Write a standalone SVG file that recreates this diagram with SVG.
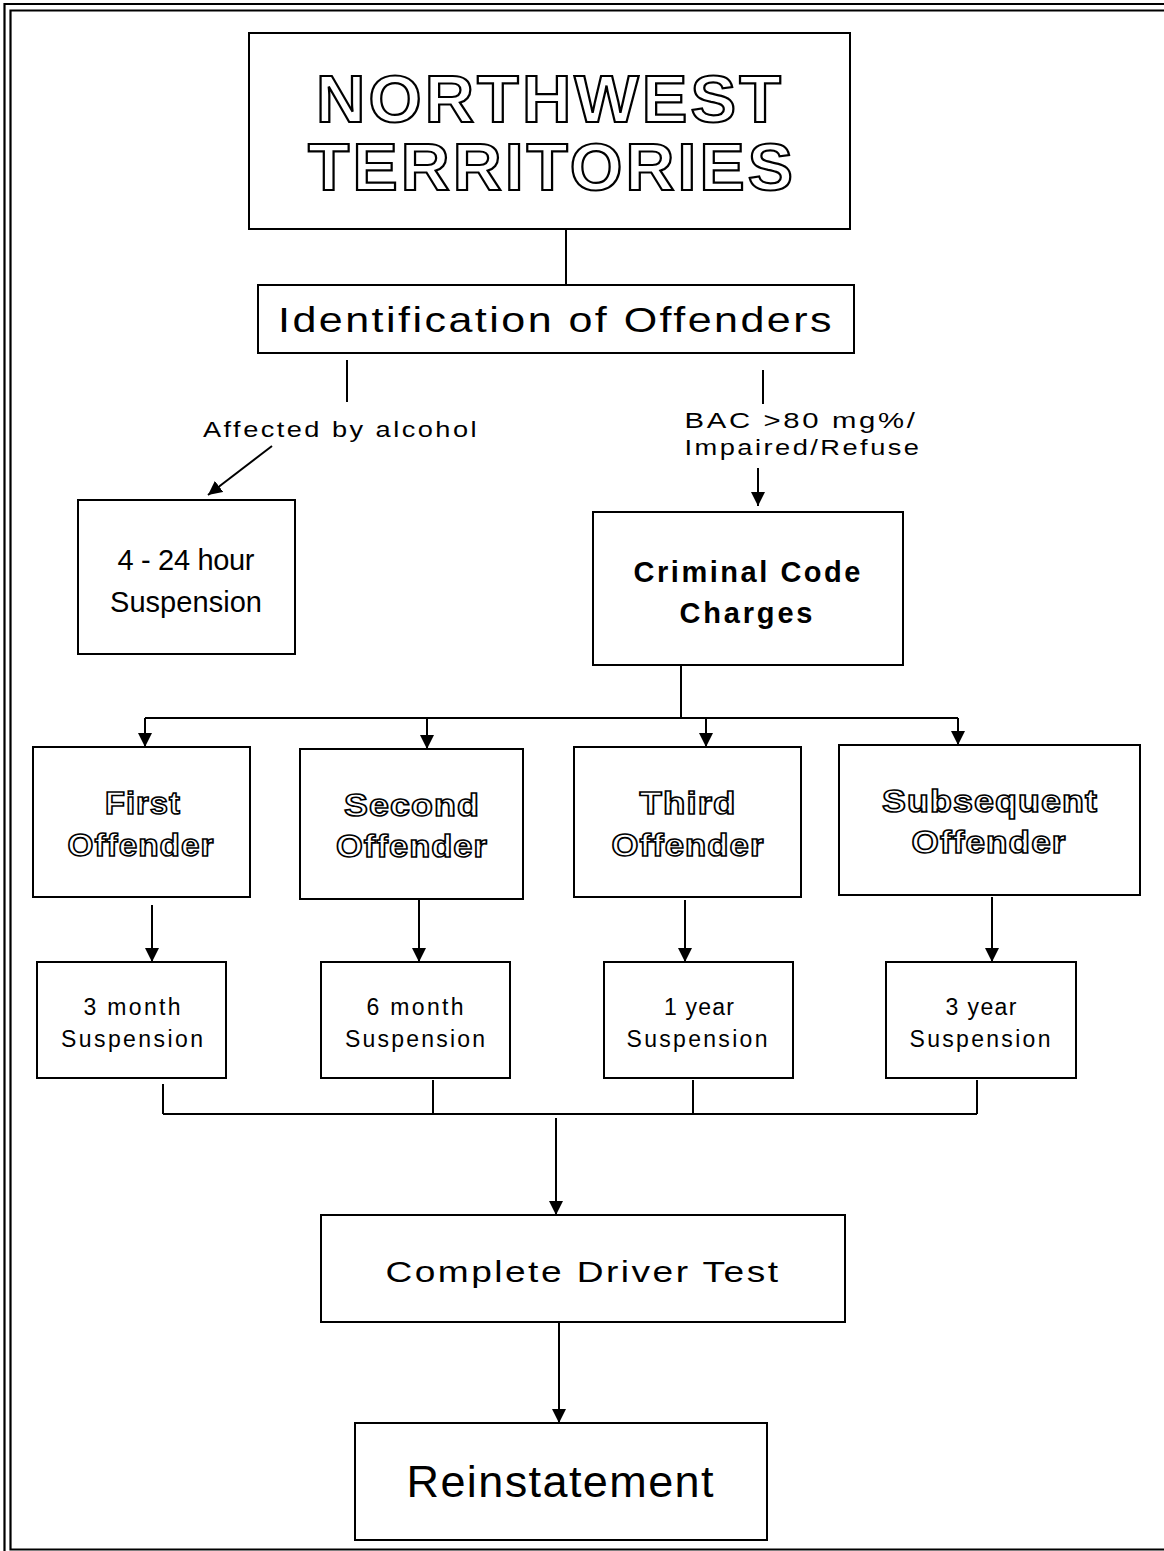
<svg xmlns="http://www.w3.org/2000/svg" width="1164" height="1551" viewBox="0 0 1164 1551">
<style>
.box{fill:#fff;stroke:#000;stroke-width:2}
.ln{fill:none;stroke:#000;stroke-width:2}
.t{font-family:"Liberation Sans",Arial,sans-serif;fill:#000;text-anchor:middle}
.w{letter-spacing:2px}
.title{font-family:"Liberation Sans",Arial,sans-serif;font-weight:bold;font-size:66px;letter-spacing:3px;fill:#fff;stroke:#000;stroke-width:2.2;text-anchor:middle}
.off{font-family:"Liberation Sans",Arial,sans-serif;font-weight:bold;font-size:32px;letter-spacing:1px;fill:#fff;stroke:#000;stroke-width:1.6;text-anchor:middle}
.s22{font-size:22px}
.s23{font-size:23px}
.s29{font-size:29px}
.b{font-weight:bold}
</style>
<defs>
<marker id="ah" markerUnits="userSpaceOnUse" markerWidth="14" markerHeight="14" viewBox="0 0 10 10" refX="10" refY="5" orient="auto">
<path d="M0,0 L10,5 L0,10 z" fill="#000"/>
</marker>
</defs>
<rect width="1164" height="1551" fill="#fff"/>
<g id="frame" fill="none" stroke="#000" stroke-width="2.2">
<path d="M1164,4 H4.5 V1551"/>
<path d="M1164,10.5 H10.5 V1549.5 H1164"/>
</g>
<g id="connectors" class="ln">
<path d="M566,229 V285"/>
<path d="M347,360 V402"/>
<path d="M763,370 V404"/>
<path d="M272,446 L208,495" marker-end="url(#ah)"/>
<path d="M758,468 V506" marker-end="url(#ah)"/>
<path d="M681,665 V718"/>
<path d="M145,718 H958"/>
<path d="M145,718 V747" marker-end="url(#ah)"/>
<path d="M427,718 V749" marker-end="url(#ah)"/>
<path d="M706,718 V747" marker-end="url(#ah)"/>
<path d="M958,718 V745" marker-end="url(#ah)"/>
<path d="M152,905 V962" marker-end="url(#ah)"/>
<path d="M419,900 V962" marker-end="url(#ah)"/>
<path d="M685,900 V962" marker-end="url(#ah)"/>
<path d="M992,897 V962" marker-end="url(#ah)"/>
<path d="M163,1084 V1114 M433,1080 V1114 M693,1080 V1114 M977,1080 V1114"/>
<path d="M163,1114 H977"/>
<path d="M556,1118 V1215" marker-end="url(#ah)"/>
<path d="M559,1322 V1423" marker-end="url(#ah)"/>
</g>
<g id="title">
<rect class="box" x="249" y="33" width="601" height="196"/>
<text class="title" x="550" y="122" textLength="468" lengthAdjust="spacingAndGlyphs">NORTHWEST</text>
<text class="title" x="552" y="190" textLength="488" lengthAdjust="spacingAndGlyphs">TERRITORIES</text>
</g>
<g id="identification">
<rect class="box" x="258" y="285" width="596" height="68"/>
<text class="t w" x="556" y="332" font-size="35" textLength="556" lengthAdjust="spacingAndGlyphs">Identification of Offenders</text>
</g>
<g id="label-alcohol">
<text class="t s22 w" x="341" y="437" textLength="276" lengthAdjust="spacingAndGlyphs">Affected by alcohol</text>
</g>
<g id="label-bac">
<text class="t s22 w" x="801" y="428" textLength="233" lengthAdjust="spacingAndGlyphs">BAC &gt;80 mg%/</text>
<text class="t s22 w" x="803" y="455" textLength="237" lengthAdjust="spacingAndGlyphs">Impaired/Refuse</text>
</g>
<g id="hour-suspension">
<rect class="box" x="78" y="500" width="217" height="154"/>
<text class="t s29" x="186" y="570" textLength="137">4 - 24 hour</text>
<text class="t s29" x="186" y="612" textLength="152">Suspension</text>
</g>
<g id="criminal-code">
<rect class="box" x="593" y="512" width="310" height="153"/>
<text class="t s29 b" x="747" y="582" textLength="227">Criminal Code</text>
<text class="t s29 b" x="746" y="623" textLength="133">Charges</text>
</g>
<g id="first-offender">
<rect class="box" x="33" y="747" width="217" height="150"/>
<text class="off" x="143" y="814" textLength="76" lengthAdjust="spacingAndGlyphs">First</text>
<text class="off" x="141" y="856" textLength="147" lengthAdjust="spacingAndGlyphs">Offender</text>
</g>
<g id="second-offender">
<rect class="box" x="300" y="749" width="223" height="150"/>
<text class="off" x="412" y="816" textLength="136" lengthAdjust="spacingAndGlyphs">Second</text>
<text class="off" x="412" y="857" textLength="152" lengthAdjust="spacingAndGlyphs">Offender</text>
</g>
<g id="third-offender">
<rect class="box" x="574" y="747" width="227" height="150"/>
<text class="off" x="688" y="814" textLength="97" lengthAdjust="spacingAndGlyphs">Third</text>
<text class="off" x="688" y="856" textLength="153" lengthAdjust="spacingAndGlyphs">Offender</text>
</g>
<g id="subsequent-offender">
<rect class="box" x="839" y="745" width="301" height="150"/>
<text class="off" x="990" y="812" textLength="216" lengthAdjust="spacingAndGlyphs">Subsequent</text>
<text class="off" x="989" y="853" textLength="155" lengthAdjust="spacingAndGlyphs">Offender</text>
</g>
<g id="three-month">
<rect class="box" x="37" y="962" width="189" height="116"/>
<text class="t s23" x="132" y="1015" textLength="97">3 month</text>
<text class="t s23" x="132" y="1047" textLength="142">Suspension</text>
</g>
<g id="six-month">
<rect class="box" x="321" y="962" width="189" height="116"/>
<text class="t s23" x="415" y="1015" textLength="97">6 month</text>
<text class="t s23" x="415" y="1047" textLength="140">Suspension</text>
</g>
<g id="one-year">
<rect class="box" x="604" y="962" width="189" height="116"/>
<text class="t s23" x="699" y="1015" textLength="70">1 year</text>
<text class="t s23" x="697" y="1047" textLength="141">Suspension</text>
</g>
<g id="three-year">
<rect class="box" x="886" y="962" width="190" height="116"/>
<text class="t s23" x="981" y="1015" textLength="71">3 year</text>
<text class="t s23" x="980" y="1047" textLength="141">Suspension</text>
</g>
<g id="driver-test">
<rect class="box" x="321" y="1215" width="524" height="107"/>
<text class="t w" x="583" y="1282" font-size="30" textLength="395" lengthAdjust="spacingAndGlyphs">Complete Driver Test</text>
</g>
<g id="reinstatement">
<rect class="box" x="355" y="1423" width="412" height="117"/>
<text class="t" x="560" y="1497" font-size="45" textLength="307">Reinstatement</text>
</g>
</svg>
